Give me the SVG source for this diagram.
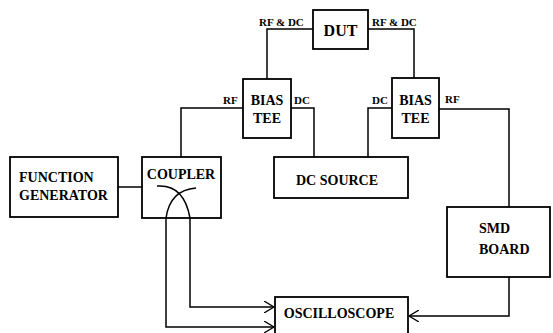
<svg xmlns="http://www.w3.org/2000/svg" width="553" height="333" viewBox="0 0 553 333">
<style>
.box{fill:#fff;stroke:#000;stroke-width:1.8}
.ln{fill:none;stroke:#000;stroke-width:1.5}
.t{font-family:"Liberation Serif","Times New Roman",serif;font-weight:bold;font-size:14px;fill:#000;text-anchor:middle}
.l{text-anchor:start}
.s{font-family:"Liberation Serif","Times New Roman",serif;font-weight:bold;font-size:11px;fill:#000}
</style>
<defs>
<marker id="ar" viewBox="0 0 10 12" refX="10" refY="6" markerWidth="10" markerHeight="12" markerUnits="userSpaceOnUse" orient="auto">
<path d="M0,0 L10,6 L0,12" fill="none" stroke="#000" stroke-width="1.3"/>
</marker>
</defs>
<rect width="553" height="333" fill="#fff"/>
<g id="connectors">
<polyline class="ln" points="313,29 267,29 267,79"/>
<polyline class="ln" points="368,29 414,29 414,78"/>
<polyline class="ln" points="243,108 181,108 181,157"/>
<polyline class="ln" points="291,108 314,108 314,157"/>
<polyline class="ln" points="392,108 368,108 368,157"/>
<polyline class="ln" points="439,109 509,109 509,207"/>
<line class="ln" x1="118" y1="187" x2="142" y2="187"/>
<path class="ln" d="M157,186 Q184,184 190,218"/>
<path class="ln" d="M196,188 Q170,190 166,218"/>
<polyline class="ln" points="190,218 190,307 274,307" marker-end="url(#ar)"/>
<polyline class="ln" points="166,218 166,327 274,327" marker-end="url(#ar)"/>
<polyline class="ln" points="509,277 509,316 409,316" marker-end="url(#ar)"/>
</g>
<g id="dut">
<rect class="box" x="313" y="10" width="55" height="39"/>
<text class="t" x="340.5" y="36" style="font-size:16px">DUT</text>
</g>
<g id="bias-tee-left">
<rect class="box" x="243" y="79" width="48" height="59"/>
<text class="t" x="267" y="105">BIAS</text>
<text class="t" x="267" y="123">TEE</text>
</g>
<g id="bias-tee-right">
<rect class="box" x="392" y="78" width="47" height="60"/>
<text class="t" x="415.5" y="105">BIAS</text>
<text class="t" x="415.5" y="123">TEE</text>
</g>
<g id="labels">
<text class="s" x="259" y="26">RF &amp; DC</text>
<text class="s" x="372" y="26">RF &amp; DC</text>
<text class="s" x="223" y="104">RF</text>
<text class="s" x="294" y="104">DC</text>
<text class="s" x="372" y="104">DC</text>
<text class="s" x="445" y="103">RF</text>
</g>
<g id="dc-source">
<rect class="box" x="274" y="157" width="134" height="41"/>
<text class="t l" x="296" y="185">DC SOURCE</text>
</g>
<g id="function-generator">
<rect class="box" x="10" y="157" width="108" height="60"/>
<text class="t l" x="19" y="182">FUNCTION</text>
<text class="t l" x="19" y="200">GENERATOR</text>
</g>
<g id="coupler">
<rect class="box" x="142" y="157" width="79" height="61" style="fill:none"/>
<text class="t" x="181" y="179">COUPLER</text>
</g>
<g id="smd-board">
<rect class="box" x="447" y="207" width="103" height="70"/>
<text class="t l" x="479" y="233">SMD</text>
<text class="t l" x="479" y="254">BOARD</text>
</g>
<g id="oscilloscope">
<rect class="box" x="275" y="297" width="133" height="40"/>
<text class="t" x="339" y="318">OSCILLOSCOPE</text>
</g>
</svg>
